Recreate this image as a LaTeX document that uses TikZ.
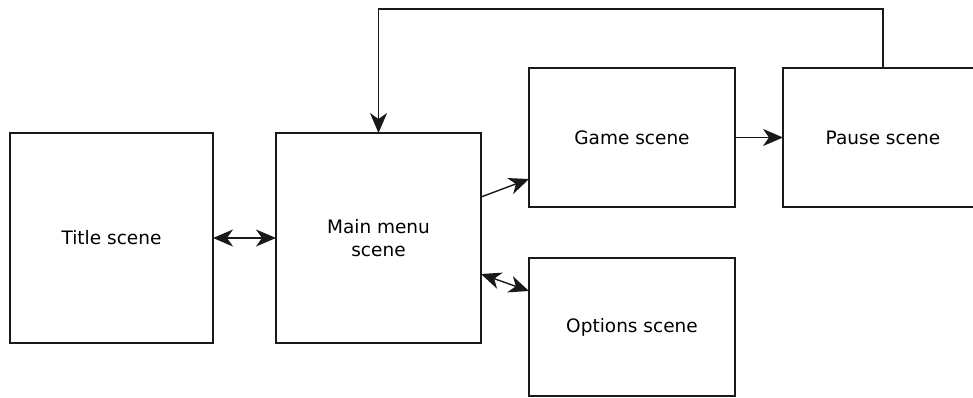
\documentclass[tikz,border=0pt]{standalone}
\usepackage{fontspec}
\setmainfont{DejaVu Sans}
\usetikzlibrary{arrows.meta,calc}

\tikzset{
  tip/.style={},
  scenebox/.style={draw=black!90, line width=1.4pt, fill=white, anchor=north west,
    inner sep=0pt, outer sep=0pt, align=center,
    font=\fontsize{18.5}{23}\selectfont},
  link/.style={draw=black!90, line width=1.4pt,
    -{Stealth[length=20pt,width=17pt,inset=6pt]}},
  duplex/.style={link,
    {Stealth[length=20pt,width=17pt,inset=6pt]}-{Stealth[length=20pt,width=17pt,inset=6pt]}},
}

\begin{document}
\begin{tikzpicture}[x=1pt,y=-1pt]
  \path[use as bounding box, fill=white] (0,0) rectangle (973,397);
  \clip (0,0) rectangle (973,397);

  % scenes
  \node[scenebox, minimum width=203pt, minimum height=210pt] (title) at (10,133) {Title scene};
  \node[scenebox, minimum width=205pt, minimum height=210pt] (main) at (276,133) {Main menu\\scene};
  \node[scenebox, minimum width=206pt, minimum height=139pt] (game) at (529,68) {Game scene};
  \node[scenebox, minimum width=200pt, minimum height=139pt] (pause) at (783,68) {Pause scene};
  \node[scenebox, minimum width=206pt, minimum height=138pt] (options) at (529,258) {Options scene};

  % anchor points for the slanted connectors
  \coordinate (mgA) at ($(main.north east)+(0,64)$);
  \coordinate (mgB) at ($(game.south west)+(0,-28)$);
  \coordinate (moA) at ($(main.north east)+(0,141)$);
  \coordinate (moB) at ($(options.north west)+(0,33)$);
  \coordinate (loop) at (0,9);

  % transitions
  \draw[duplex] (title.east) -- (main.west);
  \draw[link] (mgA) -- (mgB);
  \draw[duplex] (moA) -- (moB);
  \draw[link] (game.east) -- (pause.west);
  \draw[link] (pause.north) -- (pause.north |- loop) -- (main.north |- loop) -- (main.north);
\end{tikzpicture}
\end{document}
